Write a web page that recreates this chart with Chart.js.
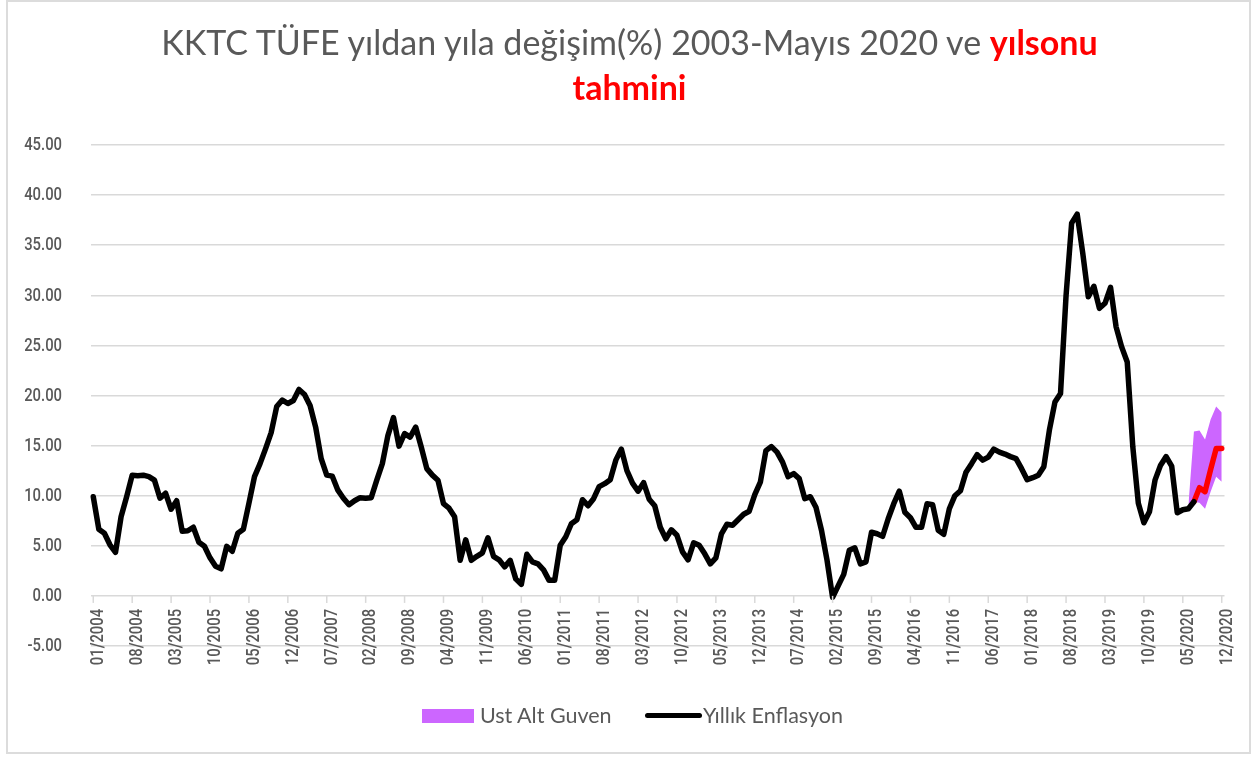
<!DOCTYPE html>
<html>
<head>
<meta charset="utf-8">
<script src="https://cdn.jsdelivr.net/npm/chart.js@4"></script>
<style>
  html, body { margin: 0; padding: 0; background: #ffffff; }
  #wrap { position: relative; width: 1253px; height: 759px; overflow: hidden; background: #fff; }
  #frame { position: absolute; left: 6px; top: 0px; width: 1245px; height: 754px; box-sizing: border-box; border: 2px solid #dcdcdc; }
  #title { position: absolute; left: 3px; top: 19.3px; width: 1253px; text-align: center; font-family: Lato, "Open Sans", sans-serif; font-size: 34px; line-height: 45px; color: #595959; white-space: nowrap; }
  #title b { color: #ff0000; font-weight: 700; }
  canvas { position: absolute; left: 0; top: 0; }
  .lg { position: absolute; font-family: Lato, "Open Sans", sans-serif; font-size: 21.5px; line-height: 20px; color: #595959; white-space: nowrap; }
</style>
</head>
<body>
<div id="wrap">
  <div id="frame"></div>
  <canvas id="c" width="1253" height="759"></canvas>
  <div id="title">KKTC TÜFE yıldan yıla değişim(%) 2003-Mayıs 2020 ve <b>yılsonu</b><br><b>tahmini</b></div>
  <div style="position:absolute;left:422px;top:709px;width:52px;height:14px;background:#cc66ff;"></div>
  <div class="lg" style="left:480px;top:704.7px;">Ust Alt Guven</div>
  <div style="position:absolute;left:645px;top:713px;width:57px;height:5px;background:#000;border-radius:2.5px;"></div>
  <div class="lg" style="left:703px;top:704.7px;">Yıllık Enflasyon</div>
</div>
<script>
// ---- data ----
const startYear = 2004, startMonth = 1, monthCount = 204;
const categories = [];
for (let k = 0; k < monthCount; k++) {
  const m = (startMonth - 1 + k) % 12 + 1;
  const y = startYear + Math.floor((startMonth - 1 + k) / 12);
  categories.push((m < 10 ? '0' + m : '' + m) + '/' + y);
}
const tickEvery = 7;
const yTicks = [-5, 0, 5, 10, 15, 20, 25, 30, 35, 40, 45];

// Yıllık Enflasyon, 01/2004 .. 07/2020
const yillikEnflasyon = [
  9.9, 6.65, 6.25, 5.1, 4.35, 7.9, 9.9, 12.05, 12.0, 12.05, 11.9, 11.55,
  9.75, 10.25, 8.65, 9.5, 6.45, 6.5, 6.85, 5.35, 4.95, 3.8, 2.95, 2.7,
  4.95, 4.45, 6.25, 6.65, 9.25, 11.9, 13.2, 14.7, 16.3, 18.9, 19.55, 19.2,
  19.5, 20.6, 20.1, 19.0, 16.85, 13.7, 12.05, 11.95, 10.55, 9.75, 9.1, 9.5,
  9.8, 9.75, 9.8, 11.55, 13.2, 16.0, 17.8, 14.95, 16.2, 15.85, 16.85, 14.85,
  12.7, 12.05, 11.55, 9.2, 8.75, 7.9, 3.55, 5.6, 3.55, 3.95, 4.3, 5.8,
  3.95, 3.6, 2.9, 3.55, 1.7, 1.15, 4.15, 3.4, 3.2, 2.6, 1.55, 1.55,
  5.05, 5.9, 7.2, 7.6, 9.6, 9.0, 9.7, 10.9, 11.2, 11.6, 13.55, 14.65,
  12.5, 11.25, 10.45, 11.3, 9.65, 9.0, 6.85, 5.7, 6.6, 6.05, 4.4, 3.6,
  5.3, 5.05, 4.2, 3.2, 3.8, 6.2, 7.15, 7.05, 7.6, 8.15, 8.45, 10.1,
  11.35, 14.5, 14.9, 14.35, 13.35, 11.9, 12.2, 11.7, 9.7, 9.9, 8.85, 6.55,
  3.55, -0.15, 1.0, 2.15, 4.55, 4.8, 3.2, 3.4, 6.35, 6.2, 5.95, 7.7,
  9.2, 10.45, 8.35, 7.8, 6.85, 6.85, 9.2, 9.1, 6.55, 6.15, 8.7, 10.0,
  10.5, 12.35, 13.2, 14.1, 13.55, 13.85, 14.65, 14.35, 14.15, 13.9, 13.7, 12.7,
  11.6, 11.8, 12.05, 12.9, 16.55, 19.35, 20.2, 30.0, 37.2, 38.1, 34.2, 29.85,
  30.9, 28.7, 29.2, 30.8, 26.85, 24.85, 23.35, 14.9, 9.25, 7.3, 8.4, 11.55,
  13.05, 13.9, 12.95, 8.3, 8.6, 8.7, 9.4
];
// Yılsonu tahmini (07/2020 .. 12/2020)
const tahminStart = 198;
const tahmin = [9.4, 10.8, 10.4, 12.6, 14.7, 14.7];
// Güven aralığı (06/2020 .. 12/2020)
const bandStart = 197;
const altGuven = [9.0, 9.4, 9.3, 8.7, 10.4, 11.9, 11.4];
const ustGuven = [9.0, 16.4, 16.5, 15.6, 17.6, 18.9, 18.3];

// ---- build table ----
const pad = (arr, start) => categories.map((_, i) => (i >= start && i - start < arr.length) ? arr[i - start] : null);
const blackData = categories.map((_, i) => i < yillikEnflasyon.length ? yillikEnflasyon[i] : null);

const GRID = '#d9d9d9', TXT = '#595959';
const LBL_FONT = '500 19px Roboto, "Liberation Sans", Arial, sans-serif';
const SQUEEZE = 0.78;

const axisLabels = {
  id: 'axisLabels',
  afterDraw(chart) {
    const ctx = chart.ctx, xs = chart.scales.x, ys = chart.scales.y;
    const y0 = ys.getPixelForValue(0);
    ctx.save();
    ctx.fillStyle = TXT;
    ctx.font = LBL_FONT;
    // y labels
    ctx.textAlign = 'right';
    ctx.textBaseline = 'middle';
    ys.ticks.forEach(t => {
      const py = ys.getPixelForValue(t.value);
      ctx.save();
      ctx.translate(62, py + 0.5);
      ctx.scale(SQUEEZE, 1);
      ctx.fillText(t.value.toFixed(2), 0, 0);
      ctx.restore();
    });
    // x tick marks + labels
    ctx.strokeStyle = GRID;
    ctx.lineWidth = 1.5;
    categories.forEach((lab, i) => {
      if (i % tickEvery !== 0) return;
      const px = xs.getPixelForValue(i);
      ctx.beginPath();
      ctx.moveTo(px, y0);
      ctx.lineTo(px, y0 + 7);
      ctx.stroke();
      ctx.save();
      ctx.translate(px, y0 + 13);
      ctx.rotate(-Math.PI / 2);
      ctx.scale(SQUEEZE, 1);
      ctx.textAlign = 'right';
      ctx.textBaseline = 'alphabetic';
      ctx.fillText(lab, 0, 9.8);
      ctx.restore();
    });
    ctx.restore();
  }
};

new Chart(document.getElementById('c'), {
  type: 'line',
  data: {
    labels: categories,
    datasets: [
      { label: 'Yıllık Enflasyon', data: blackData, borderColor: '#000000', borderWidth: 5.5,
        pointRadius: 0, tension: 0, fill: false, borderJoinStyle: 'round', borderCapStyle: 'round' },
      { label: 'Tahmin', data: pad(tahmin, tahminStart), borderColor: '#ff0000', borderWidth: 5.5,
        pointRadius: 0, tension: 0, fill: false, borderJoinStyle: 'round', borderCapStyle: 'round' },
      { label: 'Alt Guven', data: pad(altGuven, bandStart), borderWidth: 0, borderColor: 'rgba(0,0,0,0)',
        pointRadius: 0, tension: 0, fill: false },
      { label: 'Ust Alt Guven', data: pad(ustGuven, bandStart), borderWidth: 0, borderColor: 'rgba(0,0,0,0)',
        backgroundColor: '#cc66ff', pointRadius: 0, tension: 0, fill: { target: 2 } }
    ]
  },
  options: {
    responsive: false,
    animation: false,
    devicePixelRatio: 1,
    layout: { padding: { top: 145, bottom: 113, left: 0, right: 28.5 } },
    plugins: { legend: { display: false }, tooltip: { enabled: false }, title: { display: false } },
    scales: {
      x: { type: 'category', display: false, offset: true },
      y: {
        min: -5, max: 45,
        afterBuildTicks(scale) { scale.ticks = yTicks.map(v => ({ value: v })); },
        afterFit(scale) { scale.width = 90.5; },
        ticks: { display: false },
        border: { display: false },
        grid: { color: GRID, lineWidth: 1.5, drawTicks: false }
      }
    }
  },
  plugins: [axisLabels]
});
</script>
</body>
</html>
